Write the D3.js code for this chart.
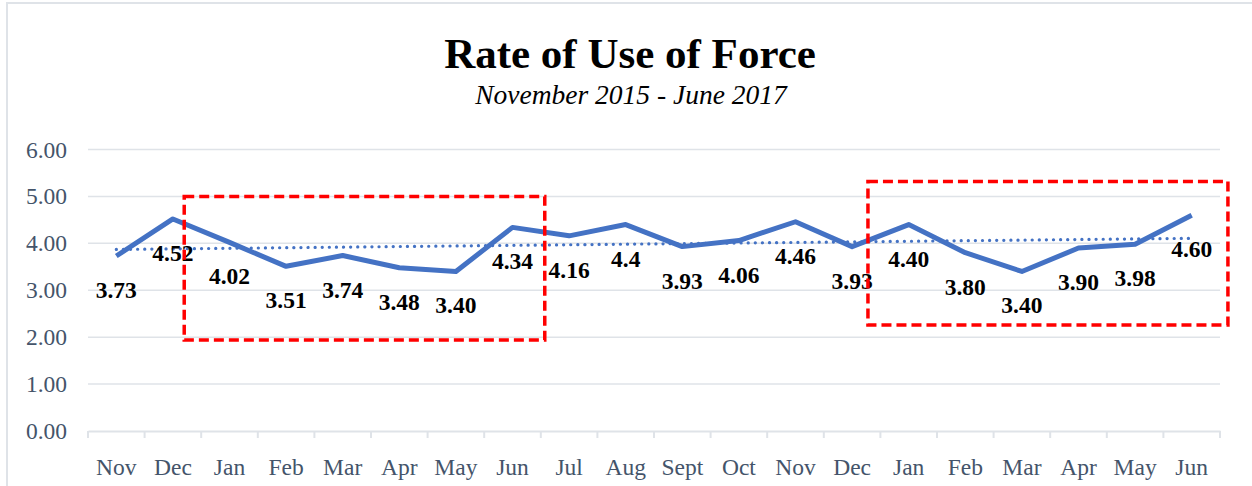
<!DOCTYPE html>
<html>
<head>
<meta charset="utf-8">
<script src="https://cdn.jsdelivr.net/npm/d3@7"></script>
<style>
  html, body { margin: 0; padding: 0; background: #fff; }
  svg { display: block; }
</style>
</head>
<body>
<svg id="chart" width="1252" height="486"></svg>
<script>
const categories = ["Nov","Dec","Jan","Feb","Mar","Apr","May","Jun","Jul","Aug","Sept","Oct","Nov","Dec","Jan","Feb","Mar","Apr","May","Jun"];
const values = [3.73,4.52,4.02,3.51,3.74,3.48,3.40,4.34,4.16,4.4,3.93,4.06,4.46,3.93,4.40,3.80,3.40,3.90,3.98,4.60];
const labels = ["3.73","4.52","4.02","3.51","3.74","3.48","3.40","4.34","4.16","4.4","3.93","4.06","4.46","3.93","4.40","3.80","3.40","3.90","3.98","4.60"];
const yTicks = [0,1,2,3,4,5,6];
// highlight boxes: x in band-units from left of plot, y in data units
const boxes = [
  {x0: 1.70, x1: 8.07, y0: 1.94, y1: 5.00},
  {x0: 13.78, x1: 20.14, y0: 2.26, y1: 5.32}
];

(function () {
const svg = d3.select("#chart");
const W = 1252, H = 486;
const pLeft = 88, pRight = 1220, pTop = 149.5, pBottom = 431;
const serif = "'Liberation Serif','Times New Roman',serif";

// chart border
svg.append("rect").attr("x", 7).attr("y", 3).attr("width", W + 10).attr("height", H + 10)
  .attr("fill", "none").attr("stroke", "#dfe3e8").attr("stroke-width", 2);

const idx = categories.map((d, i) => i);
const x = d3.scaleBand().domain(idx).range([pLeft, pRight]).padding(0);
const xc = i => x(i) + x.bandwidth() / 2;
const xu = d3.scaleLinear().domain([0, categories.length]).range([pLeft, pRight]);
const y = d3.scaleLinear().domain([0, 6]).range([pBottom, pTop]);

// gridlines
svg.append("g").selectAll("line").data(yTicks.filter(d => d > 0)).join("line")
  .attr("x1", pLeft).attr("x2", pRight)
  .attr("y1", d => y(d)).attr("y2", d => y(d))
  .attr("stroke", "#dfe3e8").attr("stroke-width", 1.5);

// y axis labels
const yAxis = svg.append("g").attr("transform", `translate(${pLeft},0)`)
  .call(d3.axisLeft(y).tickValues(yTicks).tickFormat(d3.format(".2f")).tickSize(0).tickPadding(21));
yAxis.select(".domain").remove();
yAxis.selectAll("text").attr("font-family", serif).attr("font-size", 23.5).attr("fill", "#44546A");

// x axis
const xAxis = svg.append("g").attr("transform", `translate(0,${pBottom})`)
  .call(d3.axisBottom(x).tickFormat(i => categories[i]).tickSize(0).tickPadding(27));
xAxis.select(".domain").attr("stroke", "#dfe3e8").attr("stroke-width", 2);
xAxis.selectAll("text").attr("font-family", serif).attr("font-size", 23.5).attr("fill", "#44546A");
// tick marks at band boundaries
svg.append("g").selectAll("line").data(d3.range(categories.length + 1)).join("line")
  .attr("x1", d => xu(d)).attr("x2", d => xu(d))
  .attr("y1", pBottom).attr("y2", pBottom + 7)
  .attr("stroke", "#dfe3e8").attr("stroke-width", 2);

// linear trend (least squares of the series)
const n = values.length;
const mx = d3.mean(idx), my = d3.mean(values);
const slope = d3.sum(idx, i => (i - mx) * (values[i] - my)) / d3.sum(idx, i => (i - mx) ** 2);
const icpt = my - slope * mx;
svg.append("line")
  .attr("x1", xc(0)).attr("y1", y(icpt))
  .attr("x2", xc(n - 1)).attr("y2", y(icpt + slope * (n - 1)))
  .attr("stroke", "#4472C4").attr("stroke-width", 3.2)
  .attr("stroke-linecap", "round").attr("stroke-dasharray", "0.1 7");

// main line
svg.append("path").datum(values)
  .attr("d", d3.line().x((d, i) => xc(i)).y(d => y(d)))
  .attr("fill", "none").attr("stroke", "#4472C4").attr("stroke-width", 5)
  .attr("stroke-linejoin", "round");

// data labels below points
svg.append("g").selectAll("text").data(values).join("text")
  .attr("x", (d, i) => xc(i)).attr("y", d => y(d) + 42)
  .attr("text-anchor", "middle")
  .attr("font-family", serif).attr("font-weight", "bold").attr("font-size", 23.5)
  .attr("fill", "#000")
  .text((d, i) => labels[i]);

// red dashed highlight boxes
svg.append("g").selectAll("rect").data(boxes).join("rect")
  .attr("x", d => xu(d.x0)).attr("width", d => xu(d.x1) - xu(d.x0))
  .attr("y", d => y(d.y1)).attr("height", d => y(d.y0) - y(d.y1))
  .attr("fill", "none").attr("stroke", "#FF0000").attr("stroke-width", 3.5)
  .attr("stroke-dasharray", "10 5");

// titles
svg.append("text").attr("x", 630).attr("y", 68).attr("text-anchor", "middle")
  .attr("font-family", serif).attr("font-weight", "bold").attr("font-size", 43)
  .attr("fill", "#000").text("Rate of Use of Force");
svg.append("text").attr("x", 631).attr("y", 104).attr("text-anchor", "middle")
  .attr("font-family", serif).attr("font-style", "italic").attr("font-size", 27.5)
  .attr("fill", "#000").text("November 2015 - June 2017");
})();
</script>
</body>
</html>
